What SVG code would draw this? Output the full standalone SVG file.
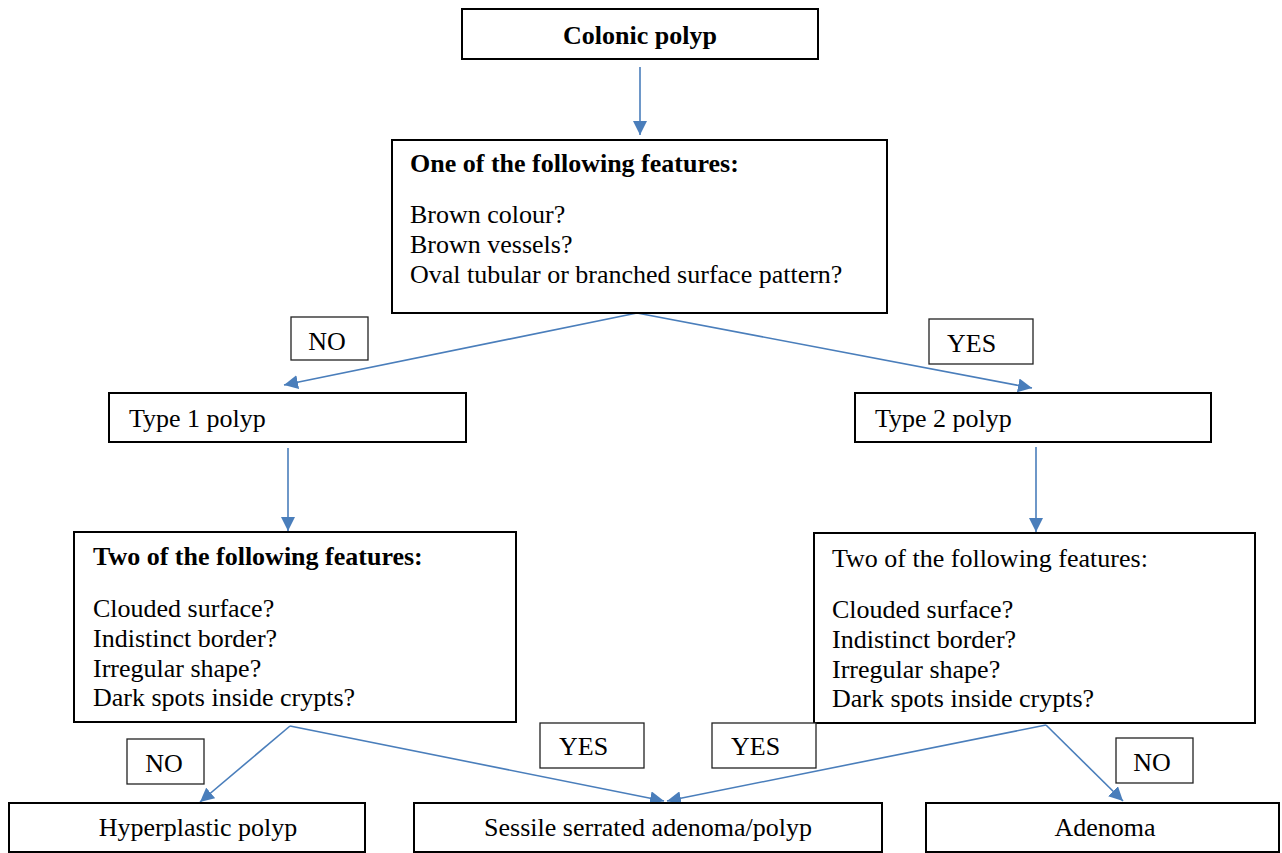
<svg xmlns="http://www.w3.org/2000/svg" width="1282" height="853" viewBox="0 0 1282 853">
<style>
.box{fill:#fff;stroke:#000;stroke-width:2}
.lbl{fill:#fff;stroke:#222;stroke-width:1.3}
text{font-family:"Liberation Serif","Times New Roman",serif;font-size:26px;fill:#000}
.b{font-weight:bold}
.c{text-anchor:middle}
.con{fill:none;stroke:#4a7ebb;stroke-width:1.6}
</style>
<defs>
<marker id="ah" markerUnits="userSpaceOnUse" markerWidth="16" markerHeight="14" refX="14" refY="7" orient="auto">
<path d="M0,0 L14,7 L0,14 Z" fill="#4a7ebb"/>
</marker>
</defs>
<rect width="1282" height="853" fill="#fff"/>
<g id="connectors">
<line class="con" x1="640" y1="67" x2="640" y2="135" marker-end="url(#ah)"/>
<line class="con" x1="637" y1="313" x2="284" y2="385" marker-end="url(#ah)"/>
<line class="con" x1="637" y1="313" x2="1032" y2="388" marker-end="url(#ah)"/>
<line class="con" x1="288" y1="448" x2="288" y2="531" marker-end="url(#ah)"/>
<line class="con" x1="1036" y1="447" x2="1036" y2="532" marker-end="url(#ah)"/>
<line class="con" x1="290" y1="726" x2="200" y2="802" marker-end="url(#ah)"/>
<line class="con" x1="290" y1="726" x2="664" y2="801" marker-end="url(#ah)"/>
<line class="con" x1="1046" y1="725" x2="667" y2="801" marker-end="url(#ah)"/>
<line class="con" x1="1046" y1="725" x2="1123" y2="801" marker-end="url(#ah)"/>
</g>
<g id="n-colonic"><rect class="box" x="462" y="9" width="356" height="50"/><text class="b c" x="640" y="44">Colonic polyp</text></g>
<g id="n-one"><rect class="box" x="392" y="140" width="495" height="173"/>
<text class="b" x="410" y="172">One of the following features:</text>
<text x="410" y="223">Brown colour?</text>
<text x="410" y="253">Brown vessels?</text>
<text x="410" y="283">Oval tubular or branched surface pattern?</text></g>
<g id="l-no1"><rect class="lbl" x="291" y="317" width="77" height="43"/><text class="c" x="327" y="350">NO</text></g>
<g id="l-yes1"><rect class="lbl" x="929" y="319" width="104" height="45"/><text x="947" y="352">YES</text></g>
<g id="n-type1"><rect class="box" x="109" y="393" width="357" height="49"/><text x="129" y="427">Type 1 polyp</text></g>
<g id="n-type2"><rect class="box" x="855" y="393" width="356" height="49"/><text x="875" y="427">Type 2 polyp</text></g>
<g id="n-two1"><rect class="box" x="74" y="532" width="442" height="190"/>
<text class="b" x="93" y="565">Two of the following features:</text>
<text x="93" y="617">Clouded surface?</text>
<text x="93" y="647">Indistinct border?</text>
<text x="93" y="677">Irregular shape?</text>
<text x="93" y="706">Dark spots inside crypts?</text></g>
<g id="n-two2"><rect class="box" x="814" y="533" width="441" height="190"/>
<text x="832" y="567">Two of the following features:</text>
<text x="832" y="618">Clouded surface?</text>
<text x="832" y="648">Indistinct border?</text>
<text x="832" y="678">Irregular shape?</text>
<text x="832" y="707">Dark spots inside crypts?</text></g>
<g id="l-no2"><rect class="lbl" x="127" y="739" width="77" height="45"/><text class="c" x="164" y="772">NO</text></g>
<g id="l-yes2"><rect class="lbl" x="540" y="723" width="104" height="45"/><text x="559" y="755">YES</text></g>
<g id="l-yes3"><rect class="lbl" x="712" y="723" width="104" height="45"/><text x="731" y="755">YES</text></g>
<g id="l-no3"><rect class="lbl" x="1116" y="738" width="77" height="45"/><text class="c" x="1152" y="771">NO</text></g>
<g id="n-hyper"><rect class="box" x="9" y="803" width="356" height="49"/><text class="c" x="198" y="836">Hyperplastic polyp</text></g>
<g id="n-sessile"><rect class="box" x="414" y="803" width="468" height="49"/><text class="c" x="648" y="836">Sessile serrated adenoma/polyp</text></g>
<g id="n-adenoma"><rect class="box" x="926" y="803" width="353" height="49"/><text class="c" x="1105" y="836">Adenoma</text></g>
</svg>
